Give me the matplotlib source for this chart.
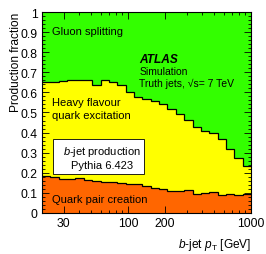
import matplotlib
matplotlib.use("Agg")
import matplotlib.pyplot as plt
import matplotlib.ticker as ticker
from matplotlib.patches import Rectangle
import numpy as np

# b-jet pT bin edges [GeV]
n_bins = 25
edges = 20.0 * 50.0 ** (np.arange(n_bins + 1) / n_bins)

# cumulative fractions: quark pair creation, + heavy flavour excitation
pair_creation = [0.182, 0.178, 0.170, 0.168, 0.172, 0.162, 0.160, 0.156, 0.153, 0.150,
                 0.146, 0.142, 0.134, 0.124, 0.117, 0.111, 0.107, 0.114, 0.096, 0.100,
                 0.106, 0.091, 0.095, 0.090, 0.095]
pair_plus_excitation = [0.650, 0.650, 0.655, 0.660, 0.660, 0.660, 0.638, 0.660, 0.650, 0.635,
                        0.600, 0.575, 0.565, 0.555, 0.540, 0.515, 0.490, 0.465, 0.430, 0.410,
                        0.400, 0.370, 0.320, 0.275, 0.235]

green = "#33ff00"
yellow = "#ffff00"
orange = "#ff6600"

plt.rcParams["font.family"] = ["Liberation Sans", "DejaVu Sans"]
plt.rcParams["mathtext.fontset"] = "custom"
plt.rcParams["mathtext.it"] = "Liberation Sans:italic"
plt.rcParams["mathtext.rm"] = "Liberation Sans"

fig = plt.figure(figsize=(2.66, 2.55), dpi=100)
ax = fig.add_axes((0.158, 0.161, 0.786, 0.788))

ones = np.ones(n_bins)
ax.stairs(ones, edges, baseline=0, fill=True, color=green)
ax.stairs(pair_plus_excitation, edges, baseline=0, fill=True, color=yellow)
ax.stairs(pair_creation, edges, baseline=0, fill=True, color=orange)
ax.stairs(pair_plus_excitation, edges, baseline=None, color="black", lw=0.9)
ax.stairs(pair_creation, edges, baseline=None, color="black", lw=0.9)

ax.set_xscale("log")
ax.set_xlim(edges[0], edges[-1])
ax.set_ylim(0, 1)

ax.xaxis.set_major_locator(ticker.FixedLocator([30, 100, 200, 1000]))
ax.xaxis.set_major_formatter(ticker.FixedFormatter(["30", "100", "200", "1000"]))
ax.xaxis.set_minor_locator(ticker.FixedLocator([20, 40, 50, 60, 70, 80, 90, 300, 400, 500, 600, 700, 800, 900]))
ax.xaxis.set_minor_formatter(ticker.NullFormatter())

ax.yaxis.set_major_locator(ticker.MultipleLocator(0.1))
ax.yaxis.set_minor_locator(ticker.MultipleLocator(0.02))
ax.yaxis.set_major_formatter(ticker.FuncFormatter(lambda v, p: "%g" % round(v, 2)))

ax.tick_params(which="both", direction="in", top=True, right=True, labelsize=8.8, width=0.6, pad=3)
ax.tick_params(which="major", length=5)
ax.tick_params(which="minor", length=2.5)
for s in ax.spines.values():
    s.set_linewidth(0.8)

ax.set_ylabel("Production fraction", fontsize=8.6, loc="top", labelpad=-1)
ax.set_xlabel("$b$-jet $p_{\\mathrm{T}}$ [GeV]", fontsize=8.6, loc="right", labelpad=5)

ax.text(0.05, 0.905, "Gluon splitting", transform=ax.transAxes, fontsize=8, va="center")
ax.text(0.05, 0.55, "Heavy flavour", transform=ax.transAxes, fontsize=8, va="center")
ax.text(0.05, 0.485, "quark excitation", transform=ax.transAxes, fontsize=8, va="center")
ax.text(0.05, 0.07, "Quark pair creation", transform=ax.transAxes, fontsize=8, va="center")

ax.text(0.465, 0.765, "ATLAS", transform=ax.transAxes, fontsize=8.6, fontweight="bold",
        style="italic", va="center")
ax.text(0.465, 0.705, "Simulation", transform=ax.transAxes, fontsize=7.5, va="center")
ax.text(0.465, 0.645, "Truth jets, \u221as= 7 TeV", transform=ax.transAxes, fontsize=7.5,
        va="center")

ax.add_patch(Rectangle((0.053, 0.194), 0.435, 0.174, transform=ax.transAxes,
                       fc="white", ec="black", lw=0.6, zorder=3))
ax.text(0.285, 0.308, "$b$-jet production", transform=ax.transAxes, fontsize=8,
        ha="center", va="center", zorder=4)
ax.text(0.285, 0.239, "Pythia 6.423", transform=ax.transAxes, fontsize=8,
        ha="center", va="center", zorder=4)

fig.savefig("out.png", dpi=100)
